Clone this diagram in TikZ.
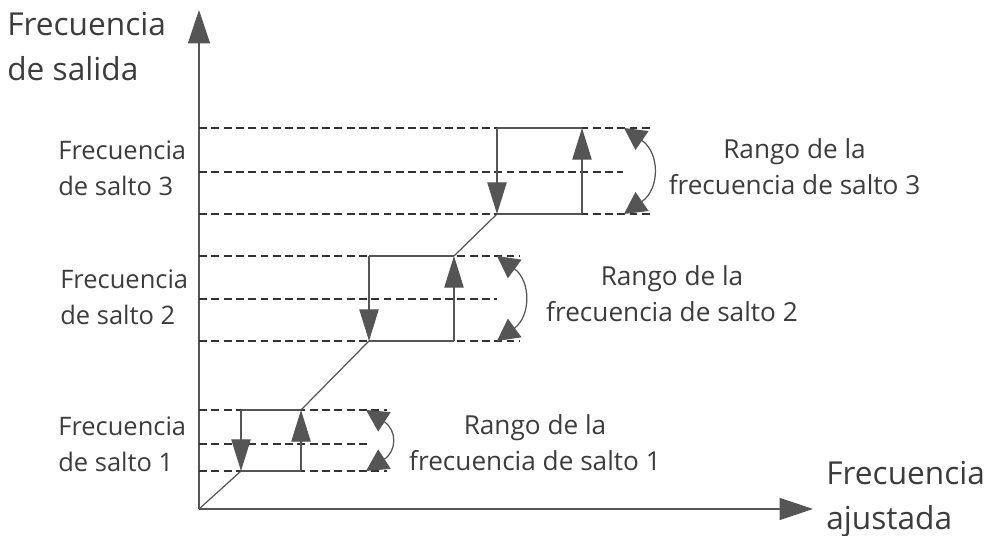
\documentclass[tikz,border=0pt]{standalone}
\usepackage{fontspec}
\setmainfont{Open Sans}
\usepackage{tikz}
\usepackage{xcolor}
\usetikzlibrary{positioning,arrows.meta}
\definecolor{linegray}{HTML}{555555}
\definecolor{textgray}{HTML}{3C3C3C}

\begin{document}
\begin{tikzpicture}[every node/.style={font=\fontsize{14.5}{20.5}\selectfont,text=textgray}]
    \tikzstyle{lbl}=[align=left,inner sep=0pt,anchor=west];
    \tikzstyle{rng}=[align=center,inner sep=0pt,font=\fontsize{14.9}{20.5}\selectfont];
    \tikzstyle{axlbl}=[align=left,inner sep=0pt,anchor=west,font=\fontsize{18}{25.6}\selectfont];
    \tikzstyle{axis}=[linegray,line width=0.8pt,-{Triangle[length=19pt,width=12.5pt]}];
    \tikzstyle{jump}=[linegray,line width=0.7pt,-{Triangle[length=18pt,width=11pt]}];
    \tikzstyle{lvl}=[black!80,line width=0.6pt,dash pattern=on 4.5pt off 2.5pt];
    \tikzstyle{side}=[linegray,line width=0.7pt];
    \tikzstyle{span}=[linegray,line width=0.7pt,
                      {Triangle[length=12.5pt,width=13pt]}-{Triangle[length=12.5pt,width=13pt]}];

    \useasboundingbox (0,0) rectangle (19.72,10.72);

    % axes
    \coordinate (O)    at (3.98,0.54);
    \coordinate (ytop) at (3.98,10.52);
    \coordinate (xend) at (16.26,0.54);
    \draw[axis] (O) -- (ytop);
    \draw[axis] (O) -- (xend);
    \node[axlbl] (ylbl) at (0.14,9.78) {Frecuencia\\de salida};
    \node[axlbl] (xlbl) at (16.52,0.74) {Frecuencia\\ajustada};

    % band 1
    \coordinate (d1t) at (4.82,2.52);  \coordinate (d1b) at (4.82,1.30);
    \coordinate (u1t) at (6.02,2.52);  \coordinate (u1b) at (6.02,1.30);
    \coordinate (e1t) at (7.74,2.52);  \coordinate (e1m) at (7.36,1.84);
    \coordinate (e1b) at (7.74,1.30);
    \coordinate (c1t) at (7.32,2.52);  \coordinate (c1b) at (7.32,1.30);
    \draw[lvl] (O |- e1t) -- (e1t);
    \draw[lvl] (O |- e1m) -- (e1m);
    \draw[lvl] (O |- e1b) -- (e1b);
    \draw[side] (d1t) -- (u1t);
    \draw[side] (d1b) -- (u1b);
    \draw[jump] (d1t) -- (d1b);
    \draw[jump] (u1b) -- (u1t);
    \draw[span] (c1t) .. controls +(0.62,-0.4) and +(0.62,0.4) .. (c1b);
    \node[lbl] (f1) at (1.16,1.84) {Frecuencia\\de salto 1};
    \node[rng] (r1) at (10.7,1.86) {Rango de la\\frecuencia de salto 1};

    % band 2
    \coordinate (d2t) at (7.38,5.60);  \coordinate (d2b) at (7.38,3.90);
    \coordinate (u2t) at (9.08,5.60);  \coordinate (u2b) at (9.08,3.90);
    \coordinate (e2t) at (10.40,5.60); \coordinate (e2m) at (9.94,4.74);
    \coordinate (e2b) at (10.40,3.90);
    \coordinate (c2t) at (9.94,5.60);  \coordinate (c2b) at (9.94,3.90);
    \draw[lvl] (O |- e2t) -- (e2t);
    \draw[lvl] (O |- e2m) -- (e2m);
    \draw[lvl] (O |- e2b) -- (e2b);
    \draw[side] (d2t) -- (u2t);
    \draw[side] (d2b) -- (u2b);
    \draw[jump] (d2t) -- (d2b);
    \draw[jump] (u2b) -- (u2t);
    \draw[span] (c2t) .. controls +(0.68,-0.5) and +(0.68,0.5) .. (c2b);
    \node[lbl] (f2) at (1.20,4.78) {Frecuencia\\de salto 2};
    \node[rng] (r2) at (13.44,4.84) {Rango de la\\frecuencia de salto 2};

    % band 3
    \coordinate (d3t) at (9.94,8.16);  \coordinate (d3b) at (9.94,6.44);
    \coordinate (u3t) at (11.64,8.16); \coordinate (u3b) at (11.64,6.44);
    \coordinate (e3t) at (13.06,8.16); \coordinate (e3m) at (12.46,7.28);
    \coordinate (e3b) at (13.06,6.44);
    \coordinate (c3t) at (12.48,8.16); \coordinate (c3b) at (12.48,6.44);
    \draw[lvl] (O |- e3t) -- (e3t);
    \draw[lvl] (O |- e3m) -- (e3m);
    \draw[lvl] (O |- e3b) -- (e3b);
    \draw[side] (d3t) -- (u3t);
    \draw[side] (d3b) -- (u3b);
    \draw[jump] (d3t) -- (d3b);
    \draw[jump] (u3b) -- (u3t);
    \draw[span] (c3t) .. controls +(0.72,-0.5) and +(0.72,0.5) .. (c3b);
    \node[lbl] (f3) at (1.16,7.36) {Frecuencia\\de salto 3};
    \node[rng] (r3) at (15.89,7.38) {Rango de la\\frecuencia de salto 3};

    % output curve
    \draw[side] (O) -- (d1b);
    \draw[side] (u1t) -- (d2b);
    \draw[side] (u2t) -- (d3b);
\end{tikzpicture}
\end{document}
